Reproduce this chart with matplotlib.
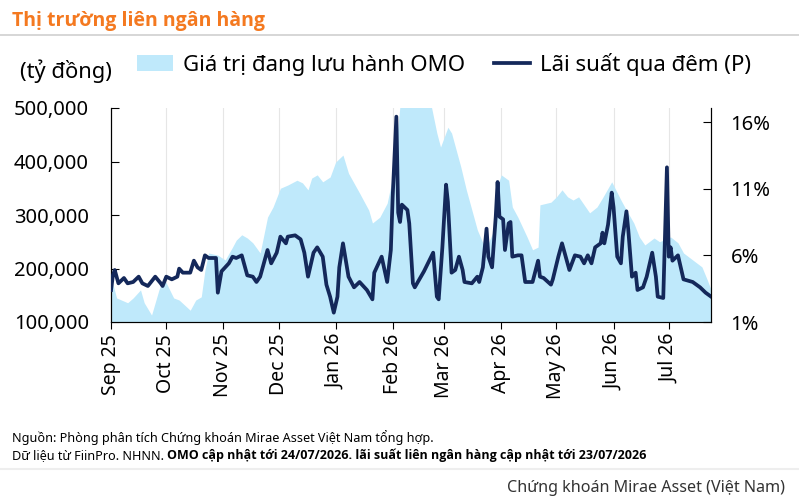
import numpy as np
import pandas as pd
from matplotlib import pyplot as plt
from matplotlib.patches import Patch
from matplotlib.lines import Line2D
from matplotlib.ticker import FuncFormatter

plt.rcParams['font.family'] = ['Noto Sans', 'DejaVu Sans']

start = pd.Timestamp('2025-09-01')

# OMO outstanding (ty dong), day offsets from 2025-09-01
omo_days = [0, 3, 9, 12, 16, 18, 22, 26, 28, 30, 34, 37, 43, 46, 49, 51, 53, 58, 62, 66,
            68, 71, 74, 77, 81, 85, 88, 92, 96, 101, 104, 107, 109, 112, 115, 119, 122, 126, 129, 135,
            140, 142, 146, 150, 153, 157, 161, 168, 174, 177, 179, 183, 185, 190, 193, 199, 202, 204, 208, 211,
            212, 216, 218, 221, 226, 229, 232, 233, 239, 242, 245, 248, 251, 254, 259, 260, 264, 267, 272, 277,
            280, 284, 287, 290, 295, 298, 304, 308, 311, 316, 321, 324, 326]
omo_vals = [184, 145, 136, 145, 160, 136, 113, 160, 178, 173, 145, 141, 122, 141, 147, 197, 229, 225, 216, 240,
            253, 263, 257, 248, 229, 296, 315, 350, 356, 365, 360, 347, 369, 375, 362, 371, 399, 412, 378, 341,
            309, 285, 296, 322, 371, 505, 510, 508, 503, 453, 427, 464, 453, 390, 347, 272, 248, 240, 272, 365,
            375, 365, 315, 296, 259, 235, 240, 319, 324, 334, 347, 334, 328, 334, 309, 304, 315, 332, 362, 328,
            309, 285, 259, 244, 257, 250, 259, 248, 229, 216, 203, 178, 160]

# overnight interbank rate (%)
rate_days = [0, 1, 2, 4, 7, 9, 12, 15, 17, 20, 24, 27, 28, 30, 33, 36, 37, 39, 43, 45,
             47, 49, 51, 53, 57, 58, 60, 64, 66, 68, 71, 74, 77, 79, 81, 85, 87, 90, 92, 95,
             96, 100, 103, 105, 107, 110, 112, 115, 117, 119, 121, 123, 124, 126, 129, 132, 135, 139, 142, 143,
             147, 150, 152, 153, 155, 156, 157, 158, 161, 162, 164, 165, 170, 175, 177, 178, 180, 182, 183, 185,
             187, 189, 191, 192, 196, 199, 200, 202, 204, 205, 207, 209, 210, 211, 213, 214, 216, 217, 218, 221,
             223, 225, 229, 232, 233, 235, 239, 240, 243, 245, 248, 249, 252, 255, 257, 259, 261, 263, 266, 267,
             268, 270, 272, 273, 275, 277, 278, 280, 281, 283, 285, 286, 289, 291, 294, 296, 297, 300, 302, 303,
             304, 305, 308, 311, 316, 320, 323, 326]
rate_vals = [3.4, 4.5, 4.9, 3.9, 4.3, 3.9, 4.0, 4.4, 3.9, 3.7, 4.4, 3.9, 3.7, 4.4, 4.2, 4.4, 5.0, 4.7, 4.7, 5.6,
             5.1, 4.9, 6.0, 5.8, 5.8, 3.2, 4.8, 5.4, 5.9, 5.8, 6.0, 4.5, 4.4, 4.0, 4.4, 6.4, 5.4, 6.2, 7.4, 6.9,
             7.4, 7.5, 7.2, 6.2, 4.4, 6.2, 6.6, 5.9, 3.8, 2.9, 1.7, 2.9, 5.1, 6.9, 4.4, 3.6, 4.0, 3.4, 2.7, 4.7,
             5.9, 4.0, 6.4, 10.4, 16.4, 9.2, 8.5, 9.8, 9.4, 8.4, 3.9, 3.6, 4.8, 6.2, 2.9, 2.7, 6.6, 11.3, 10.0, 4.7,
             4.9, 5.9, 4.9, 4.0, 3.9, 4.4, 4.0, 5.1, 8.0, 5.9, 5.1, 8.9, 11.5, 8.9, 8.7, 6.4, 8.4, 8.5, 5.9, 6.0,
             6.0, 4.0, 4.0, 5.6, 4.4, 4.3, 3.8, 4.2, 5.9, 6.9, 5.4, 4.9, 6.0, 5.9, 5.4, 6.0, 5.4, 6.6, 6.9, 7.7,
             6.9, 8.3, 10.7, 9.6, 5.9, 5.4, 7.4, 9.3, 7.9, 4.4, 4.7, 3.4, 3.6, 4.4, 6.2, 4.4, 2.9, 2.8, 12.6, 5.9,
             6.6, 5.6, 6.0, 4.2, 4.0, 3.6, 3.2, 2.9]

month_labels = ['Sep 25', 'Oct 25', 'Nov 25', 'Dec 25', 'Jan 26', 'Feb 26',
                'Mar 26', 'Apr 26', 'May 26', 'Jun 26', 'Jul 26']

omo_x = start + pd.to_timedelta(omo_days, unit='D')
omo_y = np.array(omo_vals) * 1000
rate_x = start + pd.to_timedelta(rate_days, unit='D')

fig = plt.figure(figsize=(7.99, 5), dpi=100)
ax = fig.add_axes([0.139, 0.356, 0.751, 0.428])
ax2 = ax.twinx()

fill_col = '#bfe9fb'
line_col = '#14285a'

ax.fill_between(omo_x, 100000, omo_y, color=fill_col, lw=0, zorder=1)
ax.set_ylim(100000, 500000)
ax.set_xlim(start, start + pd.Timedelta(days=326))
ax.set_yticks([100000, 200000, 300000, 400000, 500000])
ax.yaxis.set_major_formatter(FuncFormatter(lambda v, p: f'{int(v):,}'))

ticks = pd.date_range('2025-09-01', '2026-07-01', freq='MS')
ax.set_xticks(ticks)
ax.set_xticklabels(month_labels, rotation=90)
ax.grid(axis='x', color='#e6e6e6', lw=0.8)
ax.set_axisbelow(True)

ax2.plot(rate_x, rate_vals, color=line_col, lw=2.7, zorder=3)
ax2.set_ylim(1, 17.05)
ax2.set_yticks([1, 6, 11, 16])
ax2.set_yticklabels(['1%', '6%', '11%', '16%'])

for a in (ax, ax2):
    a.spines['top'].set_visible(False)
ax.spines['bottom'].set_color('#333333')
ax.tick_params(axis='y', direction='in', length=6, labelsize=14.5, pad=16)
ax.tick_params(axis='x', direction='out', length=5, labelsize=14)
ax2.tick_params(axis='y', direction='in', length=6, labelsize=14.5, pad=14)

bold_fam = ['Open Sans', 'DejaVu Sans']
fig.text(0.015, 0.958, 'Thị trường liên ngân hàng', color='#f47920', fontsize=14,
         fontweight='bold', family=bold_fam, va='center')
fig.add_artist(Line2D([0.0, 1.0], [0.93, 0.93], color='#d0d0d0', lw=1.2))
fig.text(0.025, 0.858, '(tỷ đồng)', fontsize=15.8, va='center')

handles = [Patch(facecolor=fill_col, edgecolor='none'), Line2D([], [], color=line_col, lw=2.7)]
fig.legend(handles, ['Giá trị đang lưu hành OMO', 'Lãi suất qua đêm (P)'],
           loc='center left', bbox_to_anchor=(0.172, 0.872), ncol=2, frameon=False,
           fontsize=16, handlelength=1.6, columnspacing=1.3, handletextpad=0.45,
           borderpad=0, borderaxespad=0)

fig.text(0.015, 0.124, 'Nguồn: Phòng phân tích Chứng khoán Mirae Asset Việt Nam tổng hợp.',
         fontsize=9.1, va='center')
t_reg = fig.text(0.015, 0.089, 'Dữ liệu từ FiinPro. NHNN. ', fontsize=9.1, va='center')
fig.canvas.draw()
bb = t_reg.get_window_extent().transformed(fig.transFigure.inverted())
fig.text(bb.x1, 0.089, 'OMO cập nhật tới 24/07/2026. lãi suất liên ngân hàng cập nhật tới 23/07/2026',
         fontsize=9.0, fontweight='bold', family=bold_fam, va='center')
fig.add_artist(Line2D([0.0, 1.0], [0.063, 0.063], color='#eeeeee', lw=1.5))
fig.text(0.982, 0.024, 'Chứng khoán Mirae Asset (Việt Nam)', fontsize=11.6, ha='right',
         va='center', color='#333333')

fig.savefig('out.png', dpi=100)
